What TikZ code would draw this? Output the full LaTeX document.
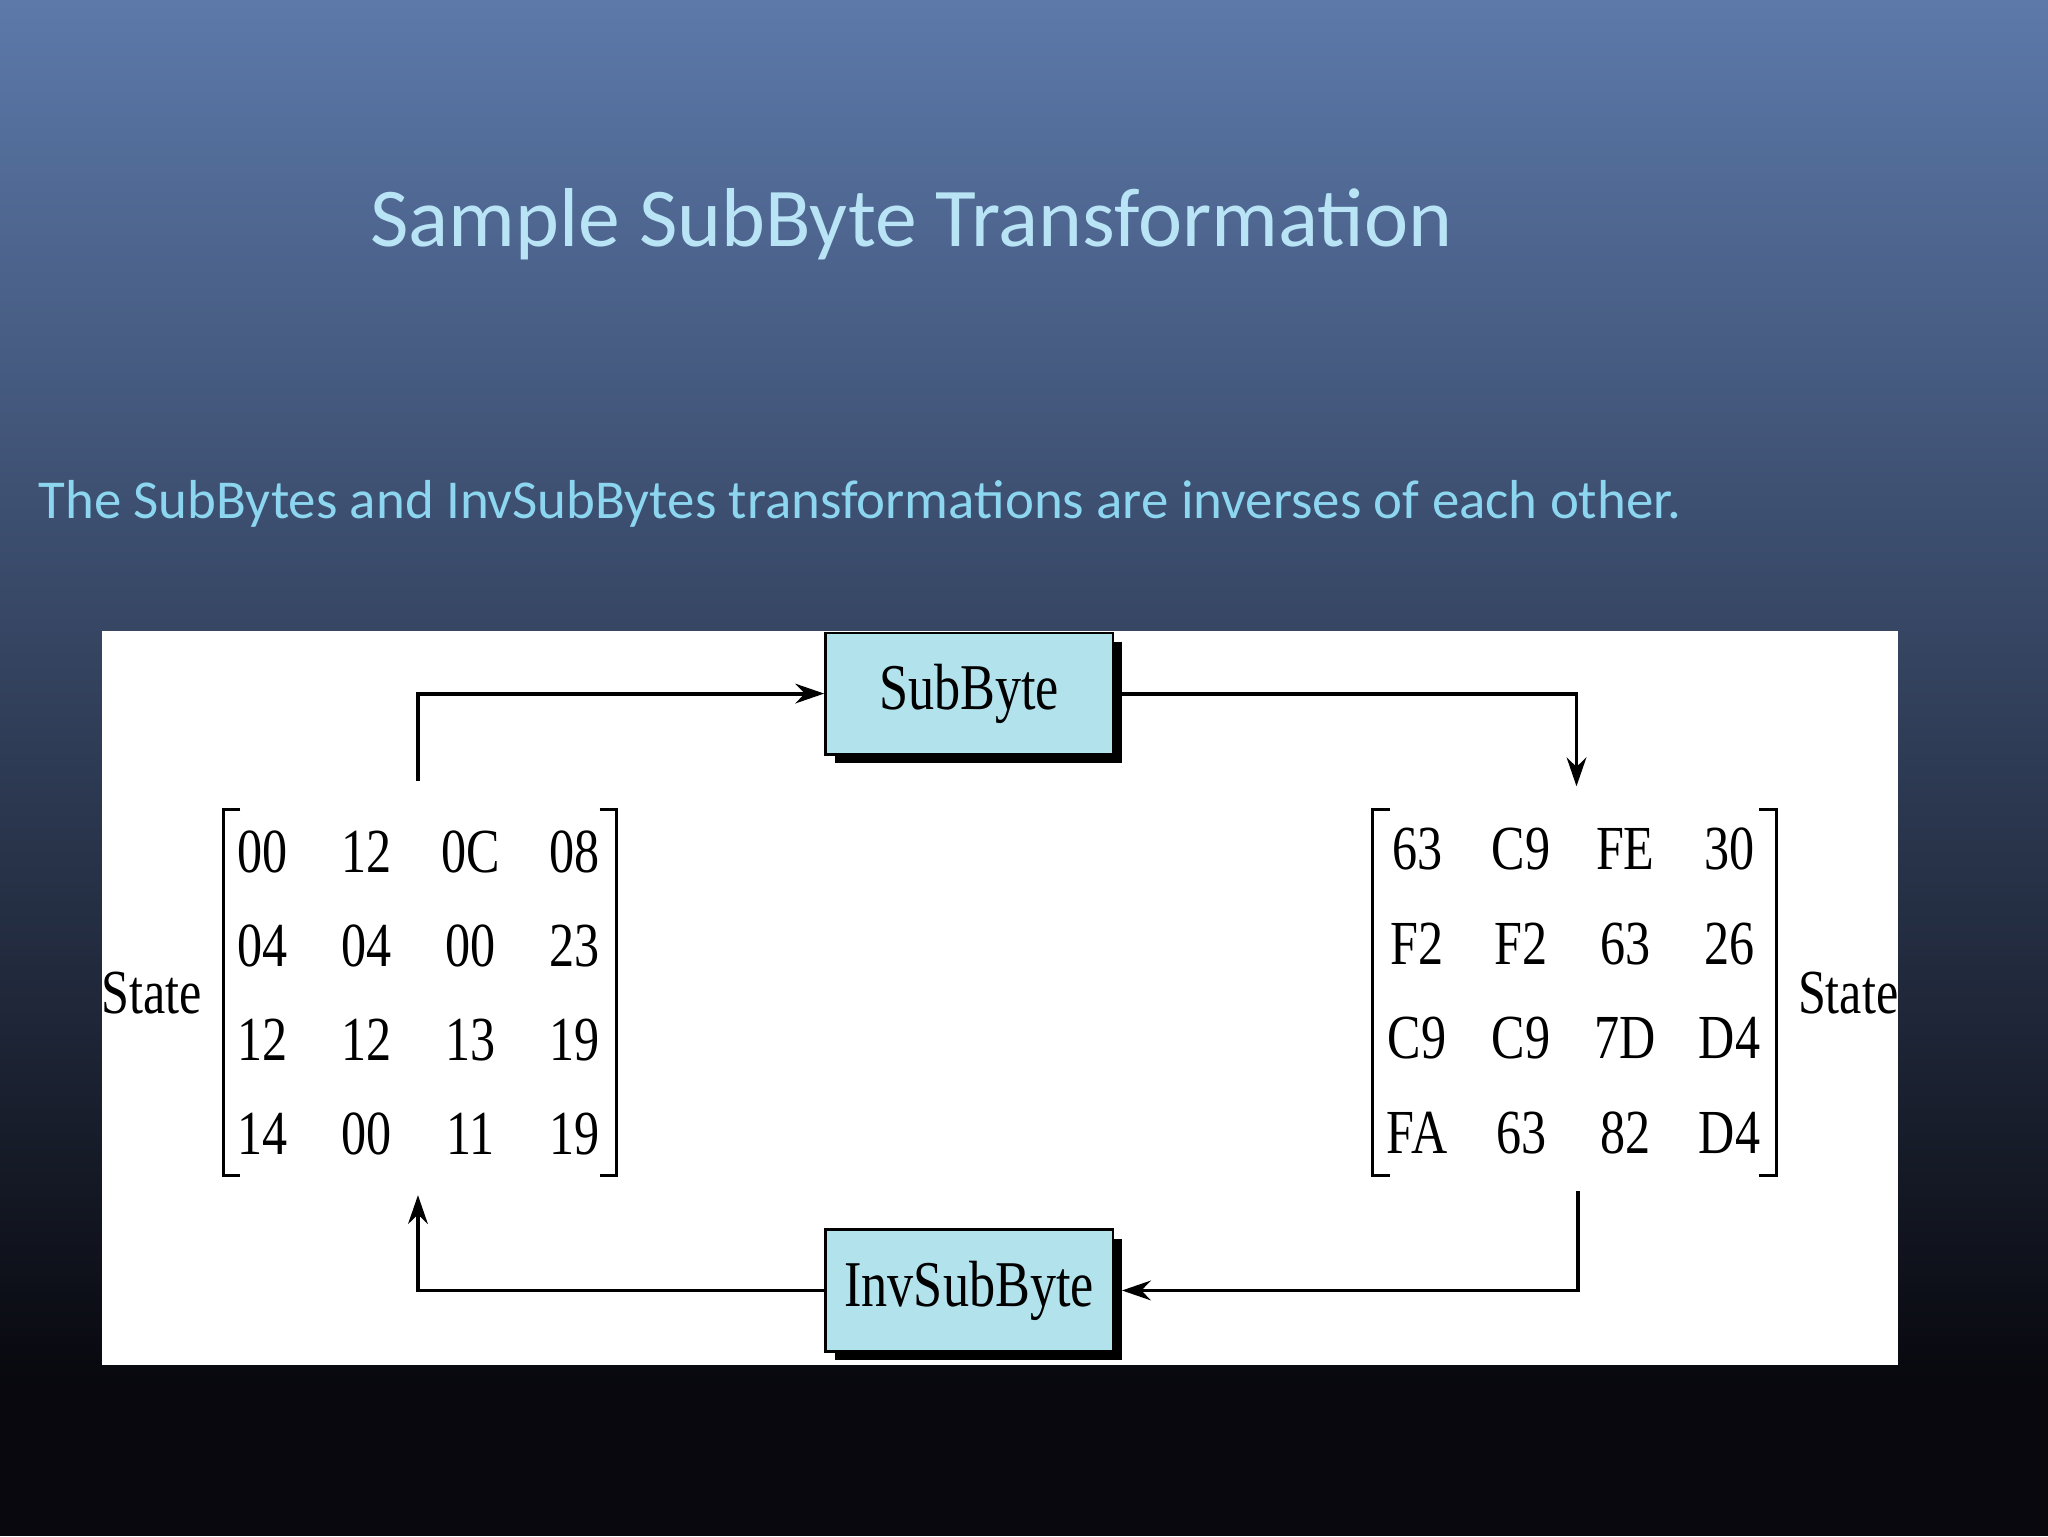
\documentclass[tikz,border=0pt]{standalone}
\usepackage{fontspec}
\setmainfont{Liberation Serif}
\newfontfamily\carfont{Carlito}
\usetikzlibrary{arrows.meta,shadows}
\definecolor{bgtop}{RGB}{92,121,170}
\definecolor{bgmid}{RGB}{55,72,105}
\definecolor{bgbot}{RGB}{8,8,14}
\definecolor{boxfill}{RGB}{178,226,236}
\definecolor{titlecol}{RGB}{185,228,245}
\definecolor{subcol}{RGB}{140,214,240}
\begin{document}
\begin{tikzpicture}[x=1pt,y=-1pt,
 box/.style={draw=black,line width=2pt,fill=boxfill,minimum width=220,minimum height=93,font=\fontsize{50}{50}\selectfont,inner sep=0,
   drop shadow={shadow xshift=7pt,shadow yshift=-7pt,opacity=1,fill=black}},
 num/.style={font=\fontsize{48}{48}\selectfont,xscale=0.8,inner sep=0},
 conn/.style={line width=3pt,-{Stealth[length=22pt,width=15pt]}},
 brk/.style={line width=2.5pt}]
\useasboundingbox (0,0) rectangle (1568,1176);
\shade[top color=bgtop,middle color=bgmid,bottom color=bgbot] (0,0) rectangle (1568,1060);
\fill[bgbot] (0,1059) rectangle (1568,1176);
\node[font=\carfont\fontsize{64}{64}\selectfont,text=titlecol,anchor=west] (t) at (280,172) {Sample SubByte Transformation};
\node[font=\carfont\fontsize{42}{42}\selectfont,text=subcol,anchor=west] (s) at (26,386) {The SubBytes and InvSubBytes transformations are inverses of each other.};
\fill[white] (78,483) rectangle (1453,1045);
\node[box] (sb) at (742,531) {\scalebox{0.8}[1]{SubByte}};
\node[box] (isb) at (742,988) {\scalebox{0.8}[1]{InvSubByte}};
\foreach \v [count=\i from 0] in {00,12,0C,08,04,04,00,23,12,12,13,19,14,00,11,19}{
 \pgfmathsetmacro\c{mod(\i,4)} \pgfmathsetmacro\rr{int(\i/4)}
 \node[num] (l\i) at ({201+\c*79.7},{652+\rr*72}) {\v};}
\foreach \v [count=\i from 0] in {63,C9,FE,30,F2,F2,63,26,C9,C9,7D,D4,FA,63,82,D4}{
 \pgfmathsetmacro\c{mod(\i,4)} \pgfmathsetmacro\rr{int(\i/4)}
 \node[num] (r\i) at ({1085+\c*79.7},{650+\rr*72.5}) {\v};}
\draw[brk] (184,620) -- (171,620) -- (171,900) -- (184,900);
\draw[brk] (459,620) -- (472,620) -- (472,900) -- (459,900);
\draw[brk] (1064,620) -- (1051,620) -- (1051,900) -- (1064,900);
\draw[brk] (1347,620) -- (1360,620) -- (1360,900) -- (1347,900);
\node[num] (sl) at (116,760) {State};
\node[num] (sr) at (1415,760) {State};
\coordinate (a1) at (320,598); \coordinate (a2) at (1207,602);
\coordinate (a3) at (1208,912); \coordinate (a4) at (320,915);
\draw[conn] (a1) |- (sb.west);
\draw[conn] (sb.east) -| (a2);
\draw[conn] (a3) |- ([xshift=6pt]isb.east);
\draw[conn] (isb.west) -| (a4);
\end{tikzpicture}
\end{document}
